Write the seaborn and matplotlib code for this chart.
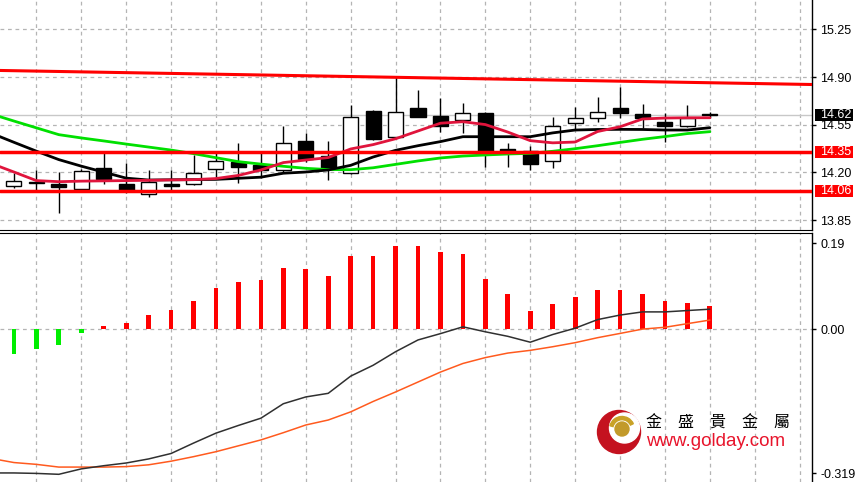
import numpy as np
import pandas as pd
import matplotlib
matplotlib.use('Agg')
import matplotlib.pyplot as plt
import matplotlib.transforms as mtransforms
from matplotlib.patches import Circle, Wedge, Rectangle
import seaborn as sns

# ---- candles (bar 0 .. 31) ----
opens  = [14.102, 14.125, 14.113, 14.080, 14.230, 14.113, 14.042, 14.115, 14.115, 14.227,
          14.279, 14.254, 14.218, 14.430, 14.320, 14.193, 14.650, 14.462, 14.670, 14.614,
          14.585, 14.634, 14.370, 14.357, 14.286, 14.565, 14.601, 14.670, 14.626, 14.572,
          14.540, 14.628]
highs  = [14.193, 14.218, 14.205, 14.225, 14.340, 14.267, 14.218, 14.218, 14.328, 14.340,
          14.413, 14.352, 14.540, 14.491, 14.430, 14.695, 14.660, 14.902, 14.805, 14.744,
          14.707, 14.645, 14.413, 14.394, 14.609, 14.682, 14.755, 14.829, 14.702, 14.634,
          14.695, 14.645]
lows   = [14.083, 14.071, 13.900, 14.075, 14.115, 14.047, 14.022, 14.071, 14.110, 14.157,
          14.125, 14.157, 14.205, 14.280, 14.144, 14.190, 14.440, 14.460, 14.605, 14.500,
          14.487, 14.242, 14.242, 14.218, 14.230, 14.511, 14.572, 14.597, 14.524, 14.425,
          14.535, 14.597]
closes = [14.139, 14.127, 14.091, 14.210, 14.150, 14.071, 14.127, 14.100, 14.198, 14.286,
          14.237, 14.218, 14.413, 14.296, 14.223, 14.609, 14.443, 14.645, 14.609, 14.540,
          14.638, 14.352, 14.352, 14.260, 14.540, 14.597, 14.645, 14.634, 14.597, 14.540,
          14.597, 14.620]

# ---- moving averages (bar -1 .. 31) ----
ma_fast = [14.265, 14.203, 14.140, 14.132, 14.136, 14.138, 14.140, 14.142, 14.145, 14.147,
           14.155, 14.178, 14.218, 14.272, 14.291, 14.309, 14.372, 14.404, 14.447, 14.504,
           14.561, 14.572, 14.551, 14.496, 14.433, 14.417, 14.423, 14.500, 14.535, 14.592,
           14.599, 14.601, 14.601]
ma_mid = [14.487, 14.421, 14.356, 14.294, 14.246, 14.202, 14.158, 14.144, 14.146, 14.147,
          14.149, 14.157, 14.165, 14.194, 14.203, 14.218, 14.252, 14.313, 14.362, 14.396,
          14.426, 14.462, 14.462, 14.462, 14.462, 14.490, 14.511, 14.515, 14.516, 14.515,
          14.511, 14.511, 14.528]
ma_slow = [14.628, 14.577, 14.527, 14.477, 14.453, 14.431, 14.408, 14.386, 14.364, 14.338,
           14.308, 14.279, 14.261, 14.245, 14.230, 14.221, 14.220, 14.234, 14.259, 14.284,
           14.306, 14.320, 14.328, 14.335, 14.340, 14.355, 14.374, 14.396, 14.420, 14.443,
           14.463, 14.485, 14.499]

# ---- MACD (hist bar 0 .. 31, lines bar -1 .. 31) ----
hist = [-0.055, -0.045, -0.036, -0.008, 0.007, 0.013, 0.032, 0.042, 0.063, 0.091,
        0.105, 0.108, 0.136, 0.133, 0.117, 0.161, 0.161, 0.184, 0.184, 0.170,
        0.165, 0.111, 0.077, 0.039, 0.055, 0.070, 0.086, 0.086, 0.077, 0.061,
        0.058, 0.051]
macd = [-0.318, -0.318, -0.319, -0.321, -0.309, -0.302, -0.296, -0.287, -0.275, -0.252,
        -0.230, -0.213, -0.197, -0.165, -0.150, -0.142, -0.104, -0.080, -0.050, -0.024,
        -0.010, 0.005, -0.006, -0.016, -0.029, -0.012, 0.002, 0.021, 0.031, 0.038,
        0.038, 0.041, 0.044]
signal = [-0.286, -0.295, -0.299, -0.305, -0.305, -0.305, -0.304, -0.300, -0.292, -0.282,
          -0.271, -0.258, -0.245, -0.229, -0.212, -0.201, -0.183, -0.160, -0.139, -0.117,
          -0.095, -0.076, -0.063, -0.053, -0.047, -0.039, -0.030, -0.019, -0.0096, 0.000,
          0.004, 0.012, 0.020]

# ---- levels / axis ----
support_levels = [14.35, 14.06]
last_price = 14.62
trend_x = [-0.62, 35.55]
trend_y = [14.948, 14.845]
price_ticks = [13.85, 14.20, 14.55, 14.90, 15.25]
macd_ticks = [-0.319, 0.00, 0.19]
macd_tick_labels = ['-0.319', '0.00', '0.19']

bars = np.arange(len(opens))
line_x = np.arange(-1, len(opens))
df = pd.DataFrame({'bar': bars, 'open': opens, 'high': highs, 'low': lows, 'close': closes})
df['up'] = df['close'] >= df['open']

sns.set_style('white')
plt.rcParams['font.family'] = ['Liberation Sans', 'DejaVu Sans']

W, H = 855, 482
fig = plt.figure(figsize=(W / 100, H / 100), dpi=100)
ax1 = fig.add_axes([0, 1 - 230 / H, 812 / W, 230 / H])
ax2 = fig.add_axes([0, 0, 812 / W, 249 / H])

grid_kw = dict(color='#b4b4b4', lw=0.9, ls=(0, (3, 3)))
for ax in (ax1, ax2):
    ax.set_xlim(-0.62, 35.55)
    ax.set_xticks(range(1, 36, 2))
    ax.tick_params(axis='x', length=0, labelbottom=False)
    ax.grid(axis='x', **grid_kw)
    ax.set_axisbelow(True)
    ax.yaxis.tick_right()
    ax.tick_params(axis='y', direction='out', length=3, width=1, pad=3,
                   labelsize=9, colors='black')
    for s in ('left', 'top', 'bottom', 'right'):
        ax.spines[s].set_visible(False)
    ax.spines['right'].set_visible(True)
    ax.spines['right'].set_color('black')
    ax.spines['right'].set_linewidth(1)
ax1.spines['bottom'].set_visible(True)
ax1.spines['bottom'].set_color('black')
ax2.spines['top'].set_visible(True)
ax2.spines['top'].set_color('black')

# ---- price panel ----
ax1.set_ylim(13.7775, 15.465)
ax1.set_yticks(price_ticks)
ax1.set_yticklabels(['%.2f' % v for v in price_ticks])
ax1.grid(axis='y', **grid_kw)
ax1.axhline(last_price, color='#c8c8c8', lw=1, zorder=1.5)

ax1.vlines(df['bar'], df['low'], df['high'], color='black', lw=1, zorder=3)
body_low = np.minimum(df['open'], df['close'])
body_h = (df['close'] - df['open']).abs()
ax1.bar(df['bar'], body_h, bottom=body_low, width=0.67,
        color=np.where(df['up'], 'white', 'black'), edgecolor='black', lw=1, zorder=4)

sns.lineplot(x=line_x, y=ma_slow, ax=ax1, color='#00e000', lw=2, zorder=6)
sns.lineplot(x=line_x, y=ma_mid, ax=ax1, color='black', lw=2, zorder=6)
sns.lineplot(x=line_x, y=ma_fast, ax=ax1, color='#e0143c', lw=2, zorder=6)
sns.lineplot(x=trend_x, y=trend_y, ax=ax1, color='#ff0000', lw=2.2, zorder=7)
for lv in support_levels:
    ax1.axhline(lv, color='#ff0000', lw=2.5, zorder=7)

# price tags on the right scale
tr = mtransforms.blended_transform_factory(ax1.transAxes, ax1.transData)
tags = [(last_price, 'black')] + [(lv, '#ff0000') for lv in support_levels]
for val, col in tags:
    ax1.add_patch(Rectangle((1.0037, val - 0.044), 0.0468, 0.088, transform=tr,
                            facecolor=col, edgecolor='none', clip_on=False, zorder=10))
    ax1.text(1.0099, val, '%.2f' % val, transform=tr, color='white', fontsize=9,
             va='center', ha='left', zorder=11, clip_on=False)

# ---- MACD panel ----
ax2.set_ylim(-0.338, 0.2124)
ax2.set_yticks(macd_ticks)
ax2.set_yticklabels(macd_tick_labels)
ax2.axhline(0, zorder=0.5, **grid_kw)
hist_colors = ['#00ee00' if v < 0 else '#ff0000' for v in hist]
ax2.bar(bars, hist, width=0.21, color=hist_colors, lw=0, zorder=3)
sns.lineplot(x=line_x, y=signal, ax=ax2, color='#ff5a1e', lw=1.1, zorder=4)
sns.lineplot(x=line_x, y=macd, ax=ax2, color='#303030', lw=1.1, zorder=5)

# ---- watermark ----
logo = fig.add_axes([594 / W, 1 - 457 / H, 50 / W, 50 / H])
logo.set_xlim(0, 50)
logo.set_ylim(0, 50)
logo.set_aspect('equal')
logo.axis('off')
logo.add_patch(Circle((25, 25), 21.5, color='#c4121f'))
logo.add_patch(Circle((30.5, 29), 15, color='white'))
logo.add_patch(Wedge((28, 28), 12.5, 25, 165, width=3.2, color='#c9a227'))
logo.add_patch(Circle((28, 28), 7, color='#c29a2a'))

fig.text(646 / W, 1 - 423 / H, '金\u3000盛\u3000貴\u3000金\u3000屬', fontsize=11.5,
         family=['Noto Sans CJK TC', 'DejaVu Sans'], color='black', va='center', ha='left')
fig.text(646 / W, 1 - 441 / H, 'www.golday.com', fontsize=13.5, color='#e8142b',
         va='center', ha='left')

fig.savefig('out.png', dpi=100)
